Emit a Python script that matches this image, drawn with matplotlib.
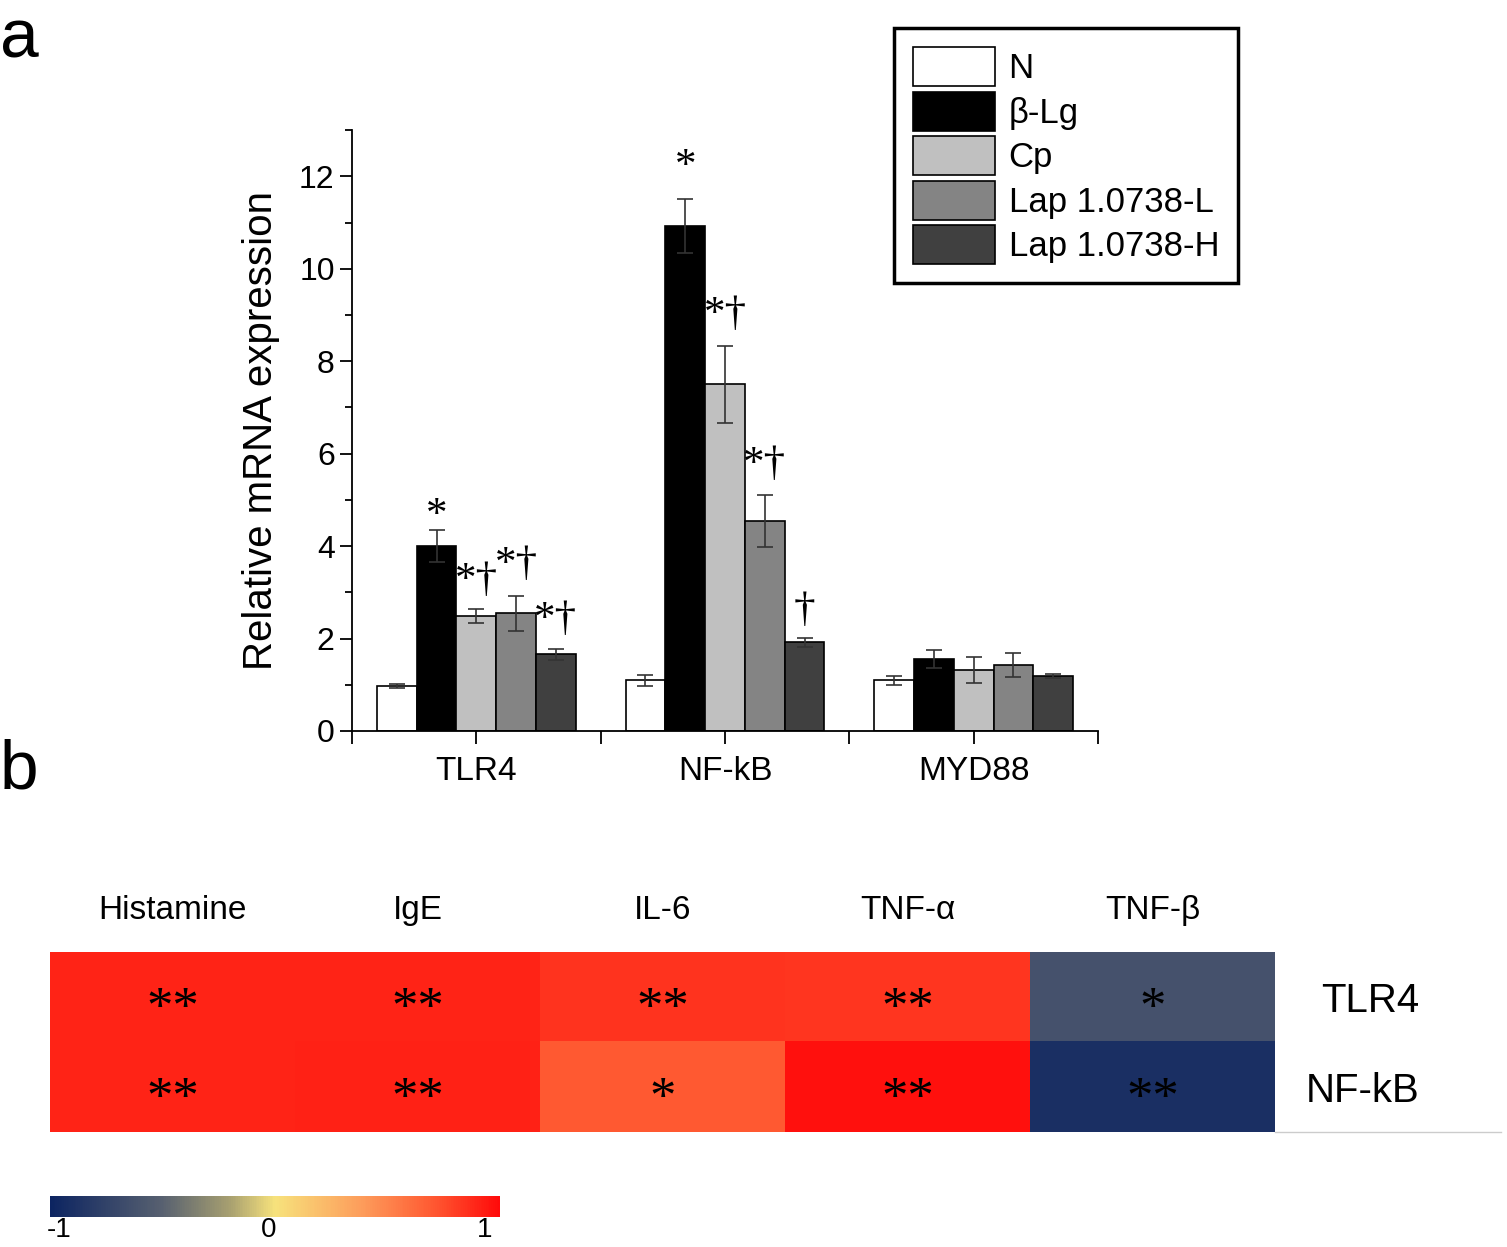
import matplotlib.pyplot as plt
import numpy as np
from matplotlib.colors import LinearSegmentedColormap
from matplotlib.ticker import MultipleLocator

plt.rcParams['font.family'] = ['Liberation Sans', 'DejaVu Sans']
plt.rcParams['axes.unicode_minus'] = False

# данные панели a
genes = ['TLR4', 'NF-kB', 'MYD88']
groups = ['N', 'β-Lg', 'Cp', 'Lap 1.0738-L', 'Lap 1.0738-H']
bar_colors = ['white', 'black', '#c0c0c0', '#848484', '#404040']
means = [[0.97, 1.10, 1.10],
         [4.00, 10.92, 1.56],
         [2.49, 7.50, 1.32],
         [2.55, 4.54, 1.43],
         [1.66, 1.92, 1.19]]
errs = [[0.05, 0.12, 0.10],
        [0.35, 0.58, 0.20],
        [0.15, 0.83, 0.28],
        [0.38, 0.56, 0.26],
        [0.12, 0.10, 0.05]]
marks = [['', '', ''],
         ['*', '*', ''],
         ['*†', '*†', ''],
         ['*†', '*†', ''],
         ['*†', '†', '']]
mark_y = [[0, 0, 0],
          [4.65, 12.2, 0],
          [3.25, 9.0, 0],
          [3.6, 5.75, 0],
          [2.4, 2.6, 0]]

# данные панели b
factors = ['Histamine', 'IgE', 'IL-6', 'TNF-α', 'TNF-β']
receptors = ['TLR4', 'NF-kB']
corr = np.array([[0.90, 0.90, 0.84, 0.83, -0.62],
                 [0.90, 0.91, 0.70, 0.97, -0.90]])
stars = [['**', '**', '**', '**', '*'],
         ['**', '**', '*', '**', '**']]

fig = plt.figure(figsize=(15.07, 12.47), dpi=100)

# панель a
ax = fig.add_axes([0.2336, 0.4138, 0.4950, 0.4819])
w = 0.16
for i in range(5):
    x = np.arange(3) + 0.1 + w * i + w / 2
    ax.bar(x, means[i], width=w, color=bar_colors[i], edgecolor='black',
           linewidth=1.2, label=groups[i], zorder=2)
    ax.errorbar(x, means[i], yerr=errs[i], fmt='none', ecolor='#333333',
                elinewidth=1.2, capsize=6, capthick=1.2, zorder=3)
    for j in range(3):
        if marks[i][j]:
            ax.text(x[j], mark_y[i][j], marks[i][j], ha='center', va='center',
                    fontsize=31, family=['Liberation Serif', 'DejaVu Serif'])

ax.set_xlim(0, 3)
ax.set_ylim(0, 13)
ax.set_xticks([0.5, 1.5, 2.5])
ax.set_xticklabels(genes, fontsize=24)
ax.xaxis.set_minor_locator(MultipleLocator(1))
ax.yaxis.set_major_locator(MultipleLocator(2))
ax.yaxis.set_minor_locator(MultipleLocator(1))
ax.tick_params(axis='both', which='major', length=9, width=1.3, labelsize=23)
ax.tick_params(axis='x', which='major', labelsize=24, pad=9)
ax.tick_params(axis='x', which='minor', length=9, width=1.3)
ax.tick_params(axis='y', which='minor', length=5, width=1.3)
ax.spines['top'].set_visible(False)
ax.spines['right'].set_visible(False)
ax.spines['left'].set_linewidth(1.3)
ax.spines['bottom'].set_linewidth(1.3)
ax.set_ylabel('Relative mRNA expression', fontsize=29, labelpad=14)

leg = fig.legend(loc='upper left', bbox_to_anchor=(0.593, 0.9775), fontsize=25,
                 handlelength=2.36, handleheight=1.35, labelspacing=0.16,
                 handletextpad=0.4, borderpad=0.55, borderaxespad=0,
                 fancybox=False, edgecolor='black', framealpha=1)
leg.get_frame().set_linewidth(2.5)

# панель b
cmap = LinearSegmentedColormap.from_list('rb', [
    (0.0, '#0c2461'), (0.25, '#586170'), (0.4, '#a8a070'), (0.5, '#f7e27c'),
    (0.7, '#fd9a5a'), (0.85, '#ff5a32'), (1.0, '#ff0a0a')])

hx = fig.add_axes([0.0332, 0.0922, 0.8128, 0.1444])
im = hx.imshow(corr, cmap=cmap, vmin=-1, vmax=1, aspect='auto')
for r in range(2):
    for c in range(5):
        hx.text(c, r + 0.14, stars[r][c], ha='center', va='center', fontsize=38,
                family=['Liberation Serif', 'DejaVu Serif'])
hx.set_xticks(range(5))
hx.set_xticklabels(factors, fontsize=24)
hx.xaxis.tick_top()
hx.set_yticks(range(2))
hx.set_yticklabels(receptors, fontsize=29, ha='right')
hx.yaxis.tick_right()
hx.tick_params(length=0)
hx.tick_params(axis='x', pad=19)
hx.tick_params(axis='y', pad=104)
for s in hx.spines.values():
    s.set_visible(False)
fig.add_artist(plt.Line2D([0.846, 0.996], [0.0922, 0.0922], color='#cccccc', lw=1))

cx = fig.add_axes([0.0332, 0.0241, 0.2986, 0.0168])
cb = fig.colorbar(im, cax=cx, orientation='horizontal', ticks=[-0.96, -0.03, 0.93])
cb.ax.set_xticklabels(['-1', '0', '1'])
cb.outline.set_visible(False)
cx.tick_params(length=0, labelsize=20, pad=0)

fig.text(0.0, 0.968, 'a', fontsize=50, va='center')
fig.text(0.0, 0.382, 'b', fontsize=50, va='center')

fig.savefig('out.png', dpi=100)
